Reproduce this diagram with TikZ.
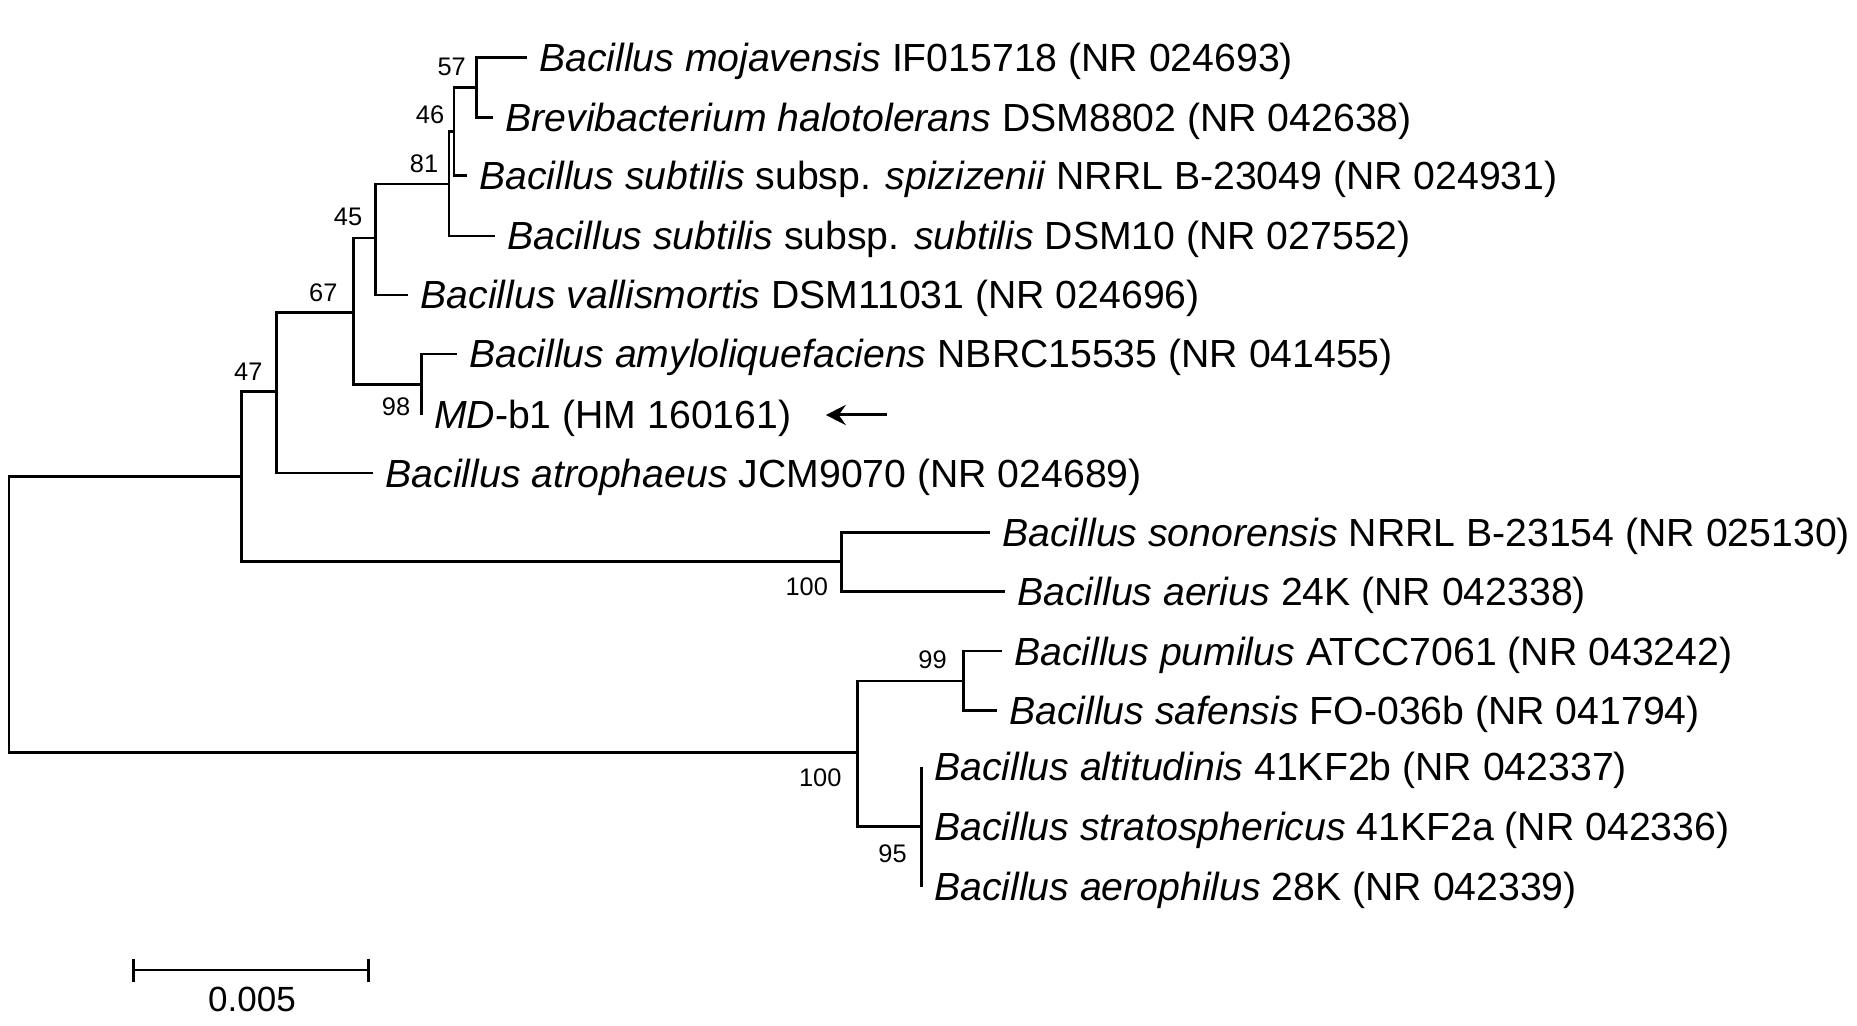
\documentclass[tikz,border=0pt]{standalone}
\usepackage{fontspec}
\setmainfont{Liberation Sans}
\usetikzlibrary{arrows.meta}
\newcommand{\taxonFont}{\fontsize{19.6}{23}\selectfont}
\newcommand{\bootFont}{\fontsize{12.7}{15}\selectfont}
\newcommand{\barFont}{\fontsize{17.5}{20}\selectfont}
\newcommand{\branchWidth}{1.4pt}
\tikzset{
  branch/.style={line width=\branchWidth},
  taxon/.style={anchor=west, inner xsep=6pt, inner ysep=0pt, text height=14pt, text depth=0pt, font=\taxonFont},
  boot/.style={inner sep=0pt, font=\bootFont},
  pointer/.style={line width=1.5pt, -{Stealth[length=10pt,width=10pt,inset=3.5pt]}}
}
\begin{document}
\begin{tikzpicture}[x=0.5pt,y=-0.5pt]
\useasboundingbox (0,0) rectangle (1857,1026);
% tips (end of branch)
\coordinate (t1) at (526.7,57.3);
\coordinate (t2) at (493,117.3);
\coordinate (t3) at (466.7,175.7);
\coordinate (t4) at (495,236);
\coordinate (t5) at (408.3,295);
\coordinate (t6) at (456.7,354);
\coordinate (t7) at (421.7,415);
\coordinate (t8) at (373.3,473);
\coordinate (t9) at (990,532.3);
\coordinate (t10) at (1005,591.7);
\coordinate (t11) at (1001.7,651);
\coordinate (t12) at (996.7,710.7);
\coordinate (t13) at (921.7,766.7);
\coordinate (t14) at (921.7,826.7);
\coordinate (t15) at (921.7,886.7);
% inner nodes
\coordinate (n57) at (476.7,87.3);
\coordinate (n46) at (454,131.7);
\coordinate (n81) at (449,184);
\coordinate (n45) at (375.7,238);
\coordinate (n98) at (421.7,384.5);
\coordinate (n67) at (353.3,312.7);
\coordinate (n47) at (276.7,391.7);
\coordinate (nsub) at (241.5,476.5);
\coordinate (nson) at (841.7,561.7);
\coordinate (n99) at (963.3,681);
\coordinate (n95) at (921.7,826.7);
\coordinate (npum) at (857.3,752.7);
\coordinate (root) at (9,614.5);

% branches
\draw[branch] (n57) |- (t1) (n57) |- (t2);
\draw[branch] (n46) |- (n57) (n46) |- (t3);
\draw[branch] (n81) |- (n46) (n81) |- (t4);
\draw[branch] (n45) |- (n81) (n45) |- (t5);
\draw[branch] (n98) |- (t6) (n98) |- (t7);
\draw[branch] (n67) |- (n45) (n67) |- (n98);
\draw[branch] (n47) |- (n67) (n47) |- (t8);
\draw[branch] (nson) |- (t9) (nson) |- (t10);
\draw[branch] (nsub) |- (n47) (nsub) |- (nson);
\draw[branch] (n99) |- (t11) (n99) |- (t12);
\draw[branch] (n95) |- (t13) (n95) |- (t15);
\draw[branch] (npum) |- (n99) (npum) |- (n95);
\draw[branch] (root) |- (nsub) (root) |- (npum);

% bootstrap values
\node[boot] (b57) at (451.7,66.7) {57};
\node[boot] (b46) at (430,114.3) {46};
\node[boot] (b81) at (424,163.3) {81};
\node[boot] (b45) at (348,217) {45};
\node[boot] (b67) at (323.3,292.5) {67};
\node[boot] (b47) at (248.3,371.7) {47};
\node[boot] (b98) at (396,406.7) {98};
\node[boot] (b100a) at (806.7,586.3) {100};
\node[boot] (b99) at (932.5,660) {99};
\node[boot] (b100b) at (820.3,777.8) {100};
\node[boot] (b95) at (892.5,854) {95};

% taxa
\node[taxon] (l1) at (t1) {\textit{Bacillus mojavensis} IF015718 (NR 024693)};
\node[taxon] (l2) at (t2) {\textit{Brevibacterium halotolerans} DSM8802 (NR 042638)};
\node[taxon] (l3) at (t3) {\textit{Bacillus subtilis} subsp. \textit{spizizenii} NRRL B-23049 (NR 024931)};
\node[taxon] (l4) at (t4) {\textit{Bacillus subtilis} subsp. \textit{subtilis} DSM10 (NR 027552)};
\node[taxon] (l5) at (t5) {\textit{Bacillus vallismortis} DSM11031 (NR 024696)};
\node[taxon] (l6) at (t6) {\textit{Bacillus amyloliquefaciens} NBRC15535 (NR 041455)};
\node[taxon] (l7) at (t7) {\textit{MD}-b1 (HM 160161)};
\node[taxon] (l8) at (t8) {\textit{Bacillus atrophaeus} JCM9070 (NR 024689)};
\node[taxon] (l9) at (t9) {\textit{Bacillus sonorensis} NRRL B-23154 (NR 025130)};
\node[taxon] (l10) at (t10) {\textit{Bacillus aerius} 24K (NR 042338)};
\node[taxon] (l11) at (t11) {\textit{Bacillus pumilus} ATCC7061 (NR 043242)};
\node[taxon] (l12) at (t12) {\textit{Bacillus safensis} FO-036b (NR 041794)};
\node[taxon] (l13) at (t13) {\textit{Bacillus altitudinis} 41KF2b (NR 042337)};
\node[taxon] (l14) at (t14) {\textit{Bacillus stratosphericus} 41KF2a (NR 042336)};
\node[taxon] (l15) at (t15) {\textit{Bacillus aerophilus} 28K (NR 042339)};

% arrow to the isolate
\coordinate (mdtail) at (886.7,415);
\draw[pointer, shorten >=11pt] (mdtail) -- (l7.east);

% scale bar
\coordinate (sbl) at (133.3,970);
\coordinate (sbr) at (368.3,970);
\draw[branch] (sbl) -- (sbr);
\draw[branch] (133.3,959) -- (133.3,982);
\draw[branch] (368.3,959) -- (368.3,982);
\node[font=\barFont, inner sep=0pt] (sblabel) at (252,999) {0.005};
\end{tikzpicture}
\end{document}
